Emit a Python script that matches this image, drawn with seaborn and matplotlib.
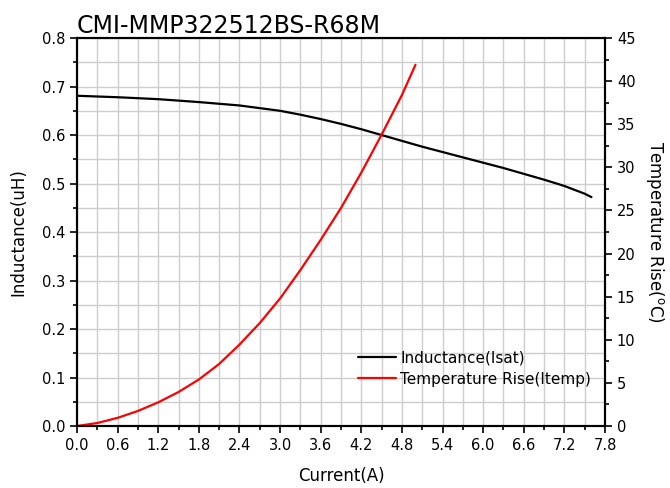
import numpy as np
import pandas as pd
import matplotlib
matplotlib.use("Agg")
import matplotlib.pyplot as plt
import seaborn as sns
from matplotlib.ticker import MultipleLocator, FormatStrFormatter

# Inductance vs current
ind_current = [0.0, 0.6, 1.2, 1.8, 2.4, 3.0, 3.3, 3.6, 3.9, 4.2, 4.5, 4.8, 5.1,
               5.4, 5.7, 6.0, 6.3, 6.6, 6.9, 7.2, 7.5, 7.6]
inductance = [0.681, 0.678, 0.674, 0.668, 0.661, 0.650, 0.642, 0.633, 0.623,
              0.612, 0.600, 0.588, 0.576, 0.565, 0.554, 0.543, 0.532, 0.520,
              0.508, 0.495, 0.479, 0.472]

# Temperature rise vs current
temp_current = [0.0, 0.3, 0.6, 0.9, 1.2, 1.5, 1.8, 2.1, 2.4, 2.7, 3.0, 3.3,
                3.6, 3.9, 4.2, 4.5, 4.8, 5.0]
temp_rise = [0.0, 0.35, 0.95, 1.75, 2.75, 3.95, 5.4, 7.2, 9.45, 11.95, 14.8,
             18.1, 21.6, 25.3, 29.4, 33.8, 38.4, 41.9]

df_ind = pd.DataFrame({"Current": ind_current, "L": inductance})
df_temp = pd.DataFrame({"Current": temp_current, "T": temp_rise})

sns.set_style("ticks")
plt.rcParams['font.family'] = ['DejaVu Sans']
plt.rcParams['text.color'] = 'black'
plt.rcParams['axes.labelcolor'] = 'black'

fig = plt.figure(figsize=(6.7, 4.88), dpi=100)
ax = fig.add_axes([0.115, 0.127, 0.788, 0.795])
ax2 = ax.twinx()

sns.lineplot(data=df_ind, x="Current", y="L", ax=ax, color="black",
             linewidth=1.6, label="Inductance(Isat)", legend=False)
sns.lineplot(data=df_temp, x="Current", y="T", ax=ax2, color="#ff0000",
             linewidth=1.6, label="Temperature Rise(Itemp)", legend=False)

ax.set_xlim(0, 7.8)
ax.set_ylim(0, 0.8)
ax2.set_ylim(0, 45)

ax.xaxis.set_major_locator(MultipleLocator(0.6))
ax.xaxis.set_minor_locator(MultipleLocator(0.3))
ax.yaxis.set_major_locator(MultipleLocator(0.1))
ax.yaxis.set_minor_locator(MultipleLocator(0.05))
ax2.yaxis.set_major_locator(MultipleLocator(5))
ax2.yaxis.set_minor_locator(MultipleLocator(2.5))

ax.xaxis.set_major_formatter(FormatStrFormatter('%.1f'))
ax.yaxis.set_major_formatter(FormatStrFormatter('%.1f'))

ax.grid(True, which='both', color='#cdcdcd', linewidth=1.0)
ax.set_axisbelow(True)

for a in (ax, ax2):
    a.tick_params(which='major', direction='out', length=5, width=1.2,
                  labelsize=10.5, colors='black')
    a.tick_params(which='minor', direction='out', length=3, width=1.2,
                  colors='black')
    for s in a.spines.values():
        s.set_linewidth(1.5)
        s.set_color('black')
        s.set_visible(True)

ax.set_xlabel("Current(A)", fontsize=12, labelpad=10)
ax.set_ylabel("Inductance(uH)", fontsize=12, labelpad=10)
ax2.set_ylabel(r"Temperature Rise($^{\mathrm{o}}$C)", fontsize=12,
               rotation=270, labelpad=22)

ax.set_title("CMI-MMP322512BS-R68M", loc='left', fontsize=17, pad=4)

h1, l1 = ax.get_legend_handles_labels()
h2, l2 = ax2.get_legend_handles_labels()
ax2.legend(h1 + h2, l1 + l2, loc='upper left', bbox_to_anchor=(0.52, 0.21),
           frameon=False, fontsize=11, handlelength=2.5, handletextpad=0.3,
           labelspacing=0.4, borderaxespad=0)

fig.savefig("out.png", dpi=100)
